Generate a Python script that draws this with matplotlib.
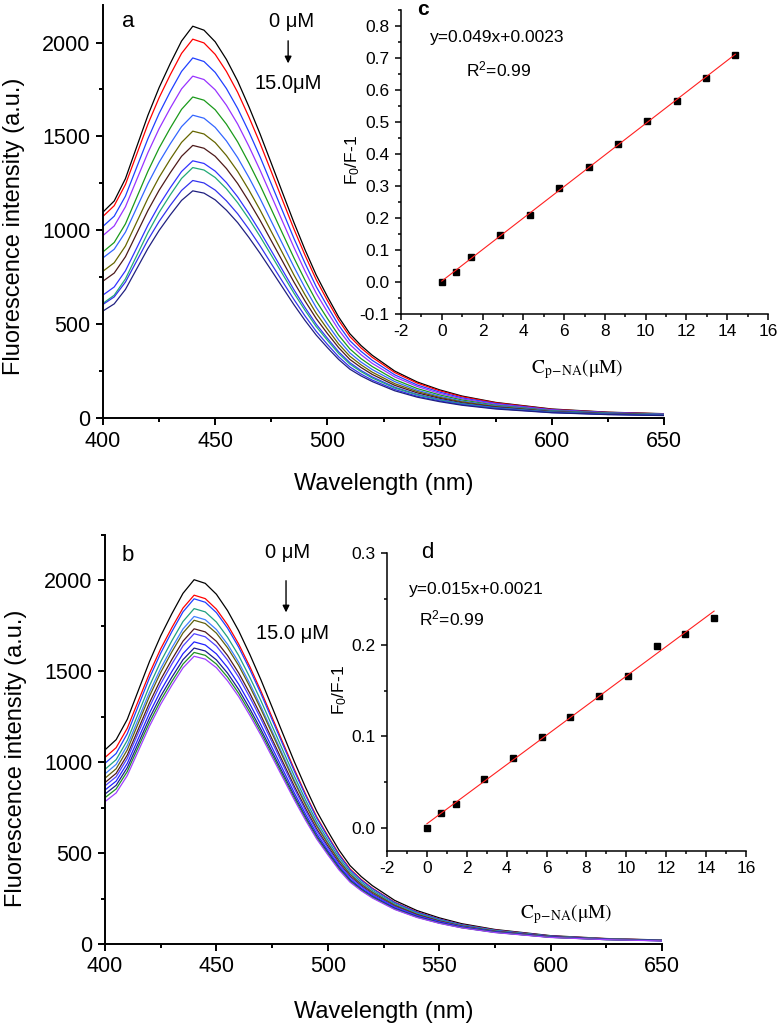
import matplotlib
matplotlib.use('Agg')
import matplotlib.pyplot as plt
from matplotlib.ticker import MultipleLocator
import numpy as np

plt.rcParams['font.family'] = ['Liberation Sans', 'DejaVu Sans']
plt.rcParams['mathtext.fontset'] = 'custom'
plt.rcParams['mathtext.rm'] = 'Liberation Sans'
plt.rcParams['mathtext.it'] = 'Liberation Sans:italic'
plt.rcParams['axes.unicode_minus'] = False

# comprimentos de onda (nm) onde os espectros foram lidos
wavelength = [400, 405, 410, 415, 420, 425, 430, 435, 440, 445, 450, 455, 460, 465,
              470, 475, 480, 485, 490, 495, 500, 505, 510, 515, 520, 530, 540, 550,
              560, 575, 600, 625, 650]

# painel a: 0 -> 15.0 uM
spectra_a = [
    [1097, 1156, 1275, 1444, 1612, 1760, 1889, 2008, 2087, 2066, 2004, 1910, 1795, 1659, 1513, 1357, 1200, 1044, 897, 762, 647, 538, 449, 386, 334, 250, 192, 150, 117, 83, 48, 31, 23],
    [1074, 1131, 1244, 1404, 1565, 1706, 1829, 1942, 2018, 1998, 1937, 1846, 1735, 1604, 1463, 1312, 1160, 1009, 868, 737, 626, 521, 434, 373, 323, 242, 186, 145, 113, 81, 46, 30, 22],
    [1021, 1075, 1182, 1335, 1487, 1622, 1739, 1846, 1918, 1899, 1841, 1755, 1649, 1525, 1391, 1247, 1103, 959, 825, 700, 595, 495, 412, 355, 307, 230, 176, 138, 107, 77, 44, 29, 21],
    [972, 1023, 1125, 1269, 1413, 1541, 1651, 1753, 1821, 1803, 1748, 1666, 1566, 1448, 1320, 1184, 1047, 911, 783, 665, 565, 470, 392, 337, 291, 219, 168, 131, 102, 73, 42, 27, 20],
    [885, 935, 1034, 1174, 1314, 1438, 1545, 1644, 1710, 1693, 1642, 1565, 1471, 1359, 1240, 1112, 983, 855, 735, 624, 530, 441, 368, 316, 274, 205, 157, 123, 96, 68, 39, 26, 19],
    [853, 899, 990, 1119, 1248, 1362, 1461, 1552, 1613, 1597, 1548, 1476, 1387, 1282, 1169, 1048, 927, 807, 694, 589, 500, 416, 347, 298, 258, 194, 148, 116, 90, 65, 37, 24, 18],
    [782, 827, 916, 1043, 1170, 1282, 1379, 1468, 1528, 1513, 1467, 1398, 1314, 1215, 1108, 993, 879, 764, 657, 558, 474, 394, 329, 283, 244, 183, 141, 110, 86, 61, 35, 23, 17],
    [729, 772, 859, 982, 1105, 1213, 1307, 1394, 1452, 1437, 1394, 1329, 1249, 1154, 1053, 944, 835, 726, 624, 530, 450, 375, 312, 269, 232, 174, 134, 105, 81, 58, 33, 22, 16],
    [655, 698, 784, 905, 1027, 1134, 1227, 1313, 1370, 1356, 1315, 1254, 1178, 1089, 993, 891, 788, 685, 589, 500, 425, 353, 295, 253, 219, 164, 126, 99, 77, 55, 32, 21, 15],
    [611, 654, 741, 864, 987, 1095, 1189, 1276, 1334, 1321, 1281, 1221, 1147, 1061, 967, 867, 767, 667, 574, 487, 414, 344, 287, 247, 213, 160, 123, 96, 75, 53, 31, 20, 15],
    [605, 645, 724, 836, 948, 1047, 1133, 1212, 1265, 1252, 1214, 1157, 1088, 1006, 917, 822, 727, 633, 544, 462, 392, 326, 272, 234, 202, 152, 116, 91, 71, 51, 29, 19, 14],
    [570, 608, 685, 794, 903, 999, 1082, 1159, 1210, 1198, 1162, 1107, 1041, 962, 877, 787, 696, 605, 520, 442, 375, 312, 260, 224, 194, 145, 111, 87, 68, 48, 28, 18, 13],
]
colors_a = ['#000000', '#ff0000', '#2040ff', '#9933ff', '#1a9a1a', '#3366ff',
            '#666600', '#4d1a1a', '#3333ff', '#22aa77', '#3333ee', '#202080']

# painel b: 0 -> 15.0 uM
spectra_b = [
    [1068, 1124, 1236, 1396, 1555, 1695, 1817, 1929, 2004, 1984, 1924, 1834, 1723, 1593, 1453, 1303, 1152, 1002, 862, 731, 621, 517, 431, 371, 321, 240, 184, 144, 112, 80, 46, 30, 22],
    [1026, 1080, 1187, 1339, 1490, 1624, 1740, 1848, 1919, 1900, 1842, 1756, 1650, 1526, 1391, 1247, 1103, 960, 825, 700, 595, 495, 413, 355, 307, 230, 177, 138, 107, 77, 44, 29, 21],
    [994, 1048, 1157, 1311, 1465, 1600, 1718, 1827, 1899, 1880, 1823, 1738, 1633, 1510, 1377, 1234, 1092, 950, 817, 693, 589, 490, 408, 351, 304, 228, 175, 137, 106, 76, 44, 28, 21],
    [961, 1014, 1120, 1270, 1421, 1553, 1668, 1774, 1845, 1827, 1771, 1688, 1587, 1467, 1338, 1199, 1061, 923, 793, 673, 572, 476, 397, 341, 295, 221, 170, 133, 103, 74, 42, 28, 20],
    [936, 988, 1092, 1239, 1386, 1516, 1629, 1733, 1802, 1784, 1730, 1649, 1550, 1433, 1306, 1171, 1036, 901, 775, 658, 559, 465, 387, 333, 288, 216, 166, 130, 101, 72, 41, 27, 20],
    [912, 964, 1068, 1216, 1364, 1494, 1607, 1711, 1781, 1763, 1710, 1630, 1532, 1416, 1291, 1158, 1024, 891, 766, 650, 552, 459, 383, 329, 285, 214, 164, 128, 100, 71, 41, 27, 20],
    [888, 939, 1040, 1184, 1328, 1455, 1565, 1666, 1734, 1717, 1665, 1587, 1491, 1379, 1257, 1127, 997, 867, 746, 633, 538, 447, 373, 321, 277, 208, 160, 125, 97, 69, 40, 26, 19],
    [870, 920, 1021, 1163, 1305, 1431, 1540, 1640, 1707, 1690, 1639, 1562, 1468, 1357, 1238, 1110, 982, 854, 734, 623, 529, 440, 367, 316, 273, 205, 157, 123, 96, 68, 39, 26, 19],
    [847, 896, 994, 1132, 1271, 1393, 1499, 1597, 1662, 1645, 1596, 1521, 1429, 1321, 1205, 1080, 956, 831, 715, 607, 515, 429, 357, 307, 266, 199, 153, 120, 93, 66, 38, 25, 18],
    [825, 873, 970, 1106, 1243, 1363, 1467, 1564, 1628, 1612, 1563, 1490, 1400, 1294, 1180, 1058, 936, 814, 700, 594, 505, 420, 350, 301, 260, 195, 150, 117, 91, 65, 37, 24, 18],
    [805, 853, 949, 1085, 1220, 1340, 1444, 1540, 1604, 1588, 1540, 1468, 1379, 1275, 1163, 1043, 922, 802, 690, 585, 497, 414, 345, 297, 257, 192, 148, 115, 90, 64, 37, 24, 18],
    [783, 831, 927, 1063, 1199, 1319, 1423, 1519, 1583, 1567, 1520, 1448, 1361, 1258, 1148, 1029, 910, 792, 681, 578, 491, 408, 340, 293, 253, 190, 146, 114, 89, 63, 36, 24, 17],
]
colors_b = ['#000000', '#ff0000', '#2040ff', '#20a080', '#4080ff', '#606010',
            '#501a1a', '#5040ff', '#2020ff', '#1a1a90', '#209020', '#a040ff']

# curvas de calibracao (insets c e d)
conc = [0, 0.72, 1.44, 2.88, 4.32, 5.76, 7.2, 8.64, 10.08, 11.52, 12.96, 14.4]
ratio_c = [0.0, 0.031, 0.079, 0.148, 0.21, 0.293, 0.359, 0.432, 0.503, 0.565, 0.639, 0.71]
ratio_d = [0.0, 0.0164, 0.0263, 0.0533, 0.0763, 0.0993, 0.1215, 0.144, 0.166, 0.199, 0.212, 0.2296]

W, H = 779, 1031
fig = plt.figure(figsize=(W / 100, H / 100), dpi=100)


def box(x0, y0, x1, y1):
    # caixa em pixels (origem no topo) -> fracoes da figura
    return [x0 / W, 1 - y1 / H, (x1 - x0) / W, (y1 - y0) / H]


def style(ax, size, width, major, minor):
    for s in ['top', 'right']:
        ax.spines[s].set_visible(False)
    for s in ['left', 'bottom']:
        ax.spines[s].set_linewidth(width)
    ax.tick_params(which='major', direction='out', length=major, width=width, labelsize=size)
    ax.tick_params(which='minor', direction='out', length=minor, width=width)


def spectra_panel(rect, spectra, colors, ymax, letter, top_txt, bot_txt, arrow, lab):
    ax = fig.add_axes(box(*rect))
    for vals, c in zip(spectra, colors):
        ax.plot(wavelength, vals, color=c, lw=0.9)
    ax.set_xlim(400, 650)
    ax.set_ylim(0, ymax)
    ax.xaxis.set_major_locator(MultipleLocator(50))
    ax.xaxis.set_minor_locator(MultipleLocator(25))
    ax.yaxis.set_major_locator(MultipleLocator(500))
    ax.yaxis.set_minor_locator(MultipleLocator(250))
    style(ax, 15.5, 1.4, 5, 3)
    ax.tick_params(axis='x', pad=4)
    ax.tick_params(axis='y', pad=4)
    ax.set_xlabel('Wavelength (nm)', fontsize=17)
    ax.set_ylabel('Fluorescence intensity (a.u.)', fontsize=17)
    # coordenadas: topo do rotulo x, borda direita do rotulo y
    ax.xaxis.set_label_coords(0.5, lab[0])
    ax.yaxis.set_label_coords(lab[1], lab[2])
    ax.text(letter[1], letter[2], letter[0], transform=ax.transAxes, fontsize=16,
            ha='center', va='center')
    ax.text(top_txt[1], top_txt[2], top_txt[0], transform=ax.transAxes, fontsize=14.5,
            ha='center', va='center')
    ax.text(bot_txt[1], bot_txt[2], bot_txt[0], transform=ax.transAxes, fontsize=14.5,
            ha='center', va='center')
    ax.annotate('', xy=(arrow[0], arrow[2]), xytext=(arrow[0], arrow[1]),
                xycoords='axes fraction',
                arrowprops=dict(arrowstyle='-|>', color='k', lw=1.0, mutation_scale=10))
    return ax


def inset(rect, y, ylim, ymajor, letter, eq, r2, lab, bold):
    ax = fig.add_axes(box(*rect))
    ax.patch.set_alpha(0)
    ax.plot(conc, y, 's', color='k', ms=4.8)
    k, b = np.polyfit(conc, y, 1)
    xx = np.array([conc[0], conc[-1]])
    ax.plot(xx, k * xx + b, color='#ff2020', lw=0.8)
    ax.set_xlim(-2, 16)
    ax.set_ylim(*ylim)
    ax.xaxis.set_major_locator(MultipleLocator(2))
    ax.xaxis.set_minor_locator(MultipleLocator(1))
    ax.yaxis.set_major_locator(MultipleLocator(ymajor))
    ax.yaxis.set_minor_locator(MultipleLocator(0.05))
    ax.yaxis.set_major_formatter(lambda v, p: '%.1f' % v)
    style(ax, 12.5, 1.1, 4.5, 2.5)
    ax.tick_params(axis='x', pad=3)
    ax.tick_params(axis='y', pad=4)
    ax.set_ylabel('F$_0$/F-1', fontsize=12.5)
    ax.yaxis.set_label_coords(lab[0], lab[1])
    ax.set_xlabel(r'$\mathrm{C_{p\mathrm{\!-\!}NA}(\mu M)}$', fontsize=14,
                  math_fontfamily='stix')
    ax.xaxis.set_label_coords(lab[2], lab[3])
    ax.text(letter[1], letter[2], letter[0], transform=ax.transAxes,
            fontsize=15 if bold else 16, fontweight='bold' if bold else 'normal',
            ha='center', va='center')
    ax.text(eq[1], eq[2], eq[0], transform=ax.transAxes, fontsize=12.5,
            ha='center', va='center')
    ax.text(r2[0], r2[1], 'R$^2$=0.99', transform=ax.transAxes, fontsize=12.5,
            ha='center', va='center')
    return ax


spectra_panel((103, 5, 664, 418), spectra_a, colors_a, 2200,
              ('a', 0.045, 0.961), ('0 μM', 0.337, 0.961), ('15.0μM', 0.330, 0.811),
              (0.330, 0.920, 0.852), (-0.133, -0.139, 0.465))
spectra_panel((105, 535, 662, 944), spectra_b, colors_b, 2250,
              ('b', 0.041, 0.949), ('0 μM', 0.327, 0.956), ('15.0 μM', 0.336, 0.760),
              (0.325, 0.895, 0.804), (-0.139, -0.140, 0.455))

inset((401, 10, 768, 314), ratio_c, (-0.1, 0.85), 0.1,
      ('c', 0.060, 1.003), ('y=0.049x+0.0023', 0.262, 0.908), (0.267, 0.803),
      (-0.106, 0.507, 0.480, -0.141), True)
inset((387, 553, 746, 851), ratio_d, (-0.025, 0.3), 0.1,
      ('d', 0.111, 1.003), ('y=0.015x+0.0021', 0.248, 0.876), (0.181, 0.779),
      (-0.106, 0.540, 0.499, -0.171), False)

fig.savefig('out.png', dpi=100)
plt.close(fig)
